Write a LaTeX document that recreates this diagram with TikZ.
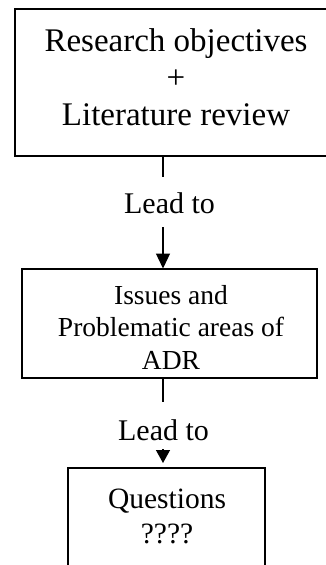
\documentclass[tikz,border=0pt]{standalone}
\usepackage{fontspec}
\setmainfont{Liberation Serif}
\usetikzlibrary{arrows.meta}
\begin{document}
\begin{tikzpicture}[x=1pt,y=1pt,
  boxst/.style={draw=black, line width=1.4pt, inner sep=0pt},
  link/.style={draw=black, line width=1.3pt},
  tipst/.style={-{Triangle[width=14pt,length=15pt]}}]
\useasboundingbox (0,0) rectangle (326,-565);
\clip (0,0) rectangle (326,-565);
% boxes
\node[boxst, minimum width=322pt, minimum height=147pt] (b1) at (176,-82.5) {};
\node[font=\fontsize{33}{37}\selectfont, align=center, inner sep=0pt] (t1) at (176,-77) {Research objectives\\+\\Literature review};
\node[boxst, minimum width=295pt, minimum height=109pt] (b2) at (169.5,-323.5) {};
\node[font=\fontsize{27.5}{32.5}\selectfont, align=center, inner sep=0pt] (t2) at (171,-327) {Issues and\\Problematic areas of\\ADR};
\node[boxst, minimum width=197pt, minimum height=140pt] (b3) at (166.5,-538) {};
\node[font=\fontsize{29.5}{35}\selectfont, align=center, inner sep=0pt] (t3) at (167,-516) {Questions\\????};
% connectors
\coordinate (c1) at (163,-177);
\node[font=\fontsize{30}{34}\selectfont, inner sep=0pt] (l1) at (169.5,-203) {Lead to};
\coordinate (c2) at (163,-227);
\draw[link] (163,-156) -- (c1);
\draw[link, tipst] (c2) -- (163,-268.5);
\coordinate (c3) at (163,-402);
\node[font=\fontsize{30}{34}\selectfont, inner sep=0pt] (l2) at (163.5,-430) {Lead to};
\coordinate (c4) at (163,-449);
\coordinate (c5) at (163,-463);
\draw[link] (163,-378) -- (c3);
\draw[link, -{Triangle[width=14pt,length=13pt]}] (c4) -- (c5);
\end{tikzpicture}
\end{document}
